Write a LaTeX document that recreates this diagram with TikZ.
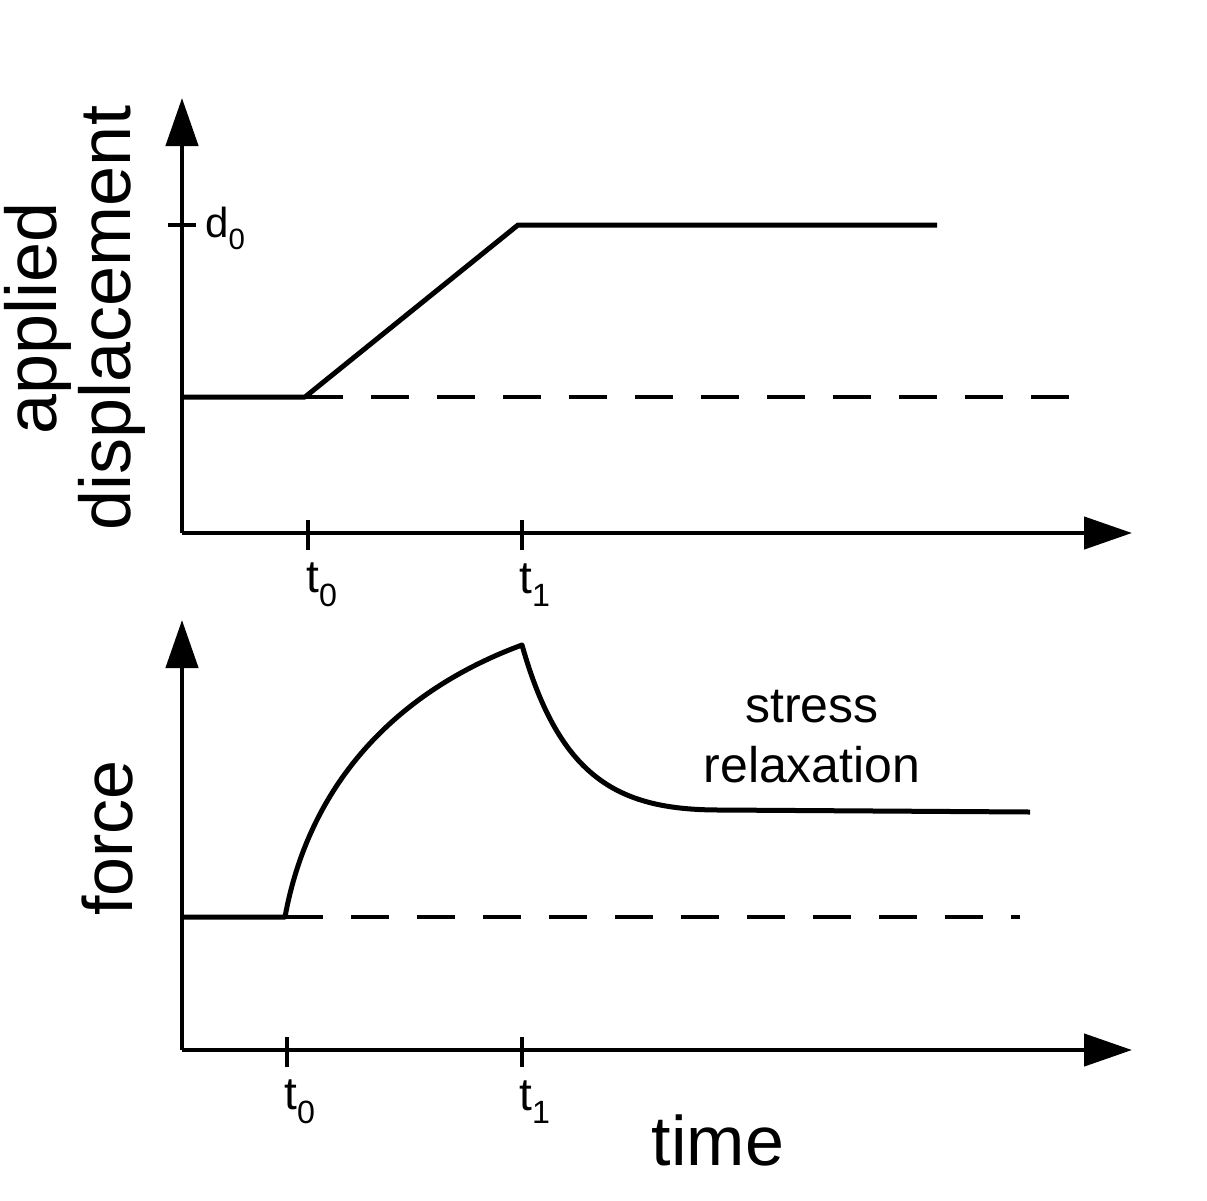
\documentclass[tikz,border=0pt]{standalone}
\usepackage{fontspec}
\setmainfont{Liberation Sans}
\usetikzlibrary{arrows.meta}
\begin{document}
\begin{tikzpicture}[x=1pt,y=-1pt,
  ax/.style={line width=4.5pt,-{Triangle[length=48pt,width=32pt]}},
  crv/.style={line width=5pt,line join=round},
  dsh/.style={line width=3.5pt,dash pattern=on 38pt off 28pt},
  tk/.style={line width=4pt},
  lab/.style={font=\fontsize{46}{50}\selectfont,inner sep=0pt},
  big/.style={font=\fontsize{70}{74}\selectfont,inner sep=0pt}]
\useasboundingbox (0,0) rectangle (1207,1200);
% top panel
\coordinate (o1) at (182,533);
\coordinate (ytop1) at (182,98);
\coordinate (xend1) at (1132,533);
\draw[ax] (o1) -- (ytop1);
\draw[ax] (o1) -- (xend1);
\draw[tk] (168,225) -- (196,225);
\node[lab,anchor=west,font=\fontsize{42}{46}\selectfont] (d0) at (205,228) {d\textsubscript{0}};
\coordinate (a0) at (182,397);
\coordinate (a1) at (305,397);
\coordinate (a2) at (518,225);
\coordinate (a3) at (937,225);
\draw[crv] (a0) -- (a1) -- (a2) -- (a3);
\coordinate (dz1) at (1075,397);
\draw[dsh] (a1) -- (dz1);
\draw[tk] (308,520) -- (308,550);
\draw[tk] (522,520) -- (522,550);
\node[lab] (t0a) at (322,585) {t\textsubscript{0}};
\node[lab] (t1a) at (535,585) {t\textsubscript{1}};
\node[big,rotate=90,align=center,font=\fontsize{72}{74}\selectfont] (yl1) at (75,318) {applied\\displacement};
% bottom panel
\coordinate (o2) at (182,1050);
\coordinate (ytop2) at (182,620);
\coordinate (xend2) at (1132,1050);
\draw[ax] (o2) -- (ytop2);
\draw[ax] (o2) -- (xend2);
\coordinate (b0) at (182,917);
\coordinate (b1) at (285,917);
\coordinate (b2) at (522,645);
\coordinate (b3) at (720,810);
\coordinate (b4) at (1030,812);
\draw[crv] (b0) -- (b1) .. controls (310,780) and (400,690) .. (b2)
  .. controls (560,780) and (620,810) .. (b3) -- (b4);
\coordinate (dz2) at (1020,917);
\draw[dsh] (b1) -- (dz2);
\draw[tk] (287,1037) -- (287,1067);
\draw[tk] (522,1037) -- (522,1067);
\node[lab] (t0b) at (300,1102) {t\textsubscript{0}};
\node[lab] (t1b) at (535,1102) {t\textsubscript{1}};
\node[lab,align=center,font=\fontsize{50}{60}\selectfont] (sr) at (812,737) {stress\\relaxation};
\node[big] (tm) at (718,1140) {time};
\node[big,rotate=90] (yl2) at (108,838) {force};
\end{tikzpicture}
\end{document}
